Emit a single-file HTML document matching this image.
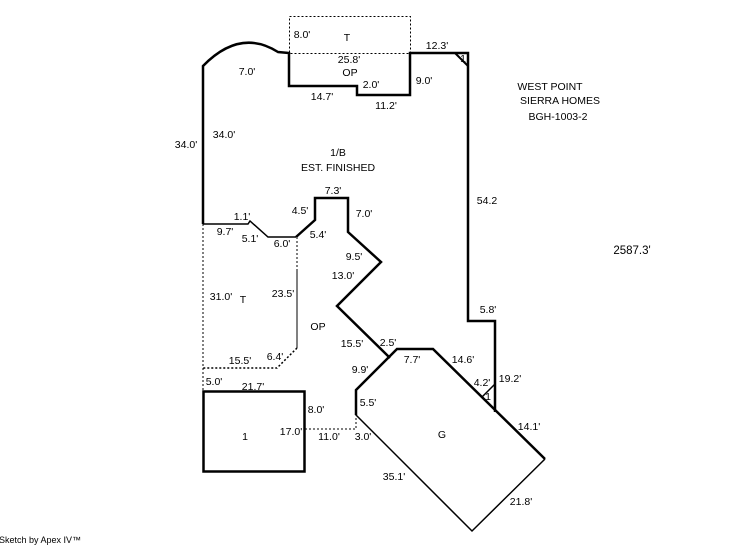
<!DOCTYPE html>
<html><head><style>
html,body{margin:0;padding:0;background:#fff;}
svg{display:block;}
text{font-family:"Liberation Sans",Arial,sans-serif;font-size:10.5px;fill:#000;text-anchor:middle;dominant-baseline:central;}
</style></head><body>
<svg width="746" height="547" viewBox="0 0 746 547" xmlns="http://www.w3.org/2000/svg">
<g fill="none" stroke="#000">
<rect x="289.5" y="16.5" width="121" height="37" stroke-dasharray="2,2" stroke-width="1"/>
<path d="M203,224 L203,66 Q240,28 278,52 L289,53 L289,86 L357,86 L357,95 L410,95 L410,53 L468,53 L468,321 L495,321 L495,412" stroke-width="2.5"/>
<path d="M455,53 L468,66" stroke-width="2"/>
<path d="M296,237 L315,220 L315,198 L348,198 L348,232 L381,262 L337,306 L390,358" stroke-width="2.5"/>
<path d="M203,224 L248,224 L250,221 L268,237 L296,237" stroke-width="1.5"/>
<path d="M203,224 L203,390" stroke-dasharray="2,2" stroke-width="1"/>
<path d="M297,237 L297,270" stroke-dasharray="2,2" stroke-width="1"/>
<path d="M297,270 L297,348" stroke-width="1"/>
<path d="M297,348 L277,368 L203,368" stroke-dasharray="2,2" stroke-width="1.5"/>
<rect x="203.5" y="391.5" width="101" height="80" stroke-width="2.5"/>
<path d="M305,429 L356,429 L356,415" stroke-dasharray="2,2" stroke-width="1"/>
<path d="M356,415 L356,390 L397,349 L433,349 L545,459" stroke-width="2.5"/>
<path d="M356,415 L472,531 L545,459" stroke-width="1.5"/>
<path d="M495,384 L482,397" stroke-width="1.5"/>
</g>
<text x="302" y="35">8.0'</text><text x="347" y="38">T</text><text x="437" y="46">12.3'</text>
<text x="349" y="60">25.8'</text><text x="247" y="72">7.0'</text><text x="350" y="73">OP</text>
<text x="371" y="85">2.0'</text><text x="424" y="81">9.0'</text><text x="322" y="97">14.7'</text>
<text x="386" y="106">11.2'</text>
<text x="550" y="87">WEST POINT</text><text x="560" y="101">SIERRA HOMES</text><text x="558" y="117">BGH-1003-2</text>
<text x="186" y="145">34.0'</text><text x="224" y="135">34.0'</text>
<text x="338" y="153">1/B</text><text x="338" y="168">EST. FINISHED</text>
<text x="333" y="191">7.3'</text><text x="300" y="211">4.5'</text><text x="364" y="214">7.0'</text>
<text x="487" y="201">54.2</text><text x="242" y="217">1.1'</text><text x="225" y="232">9.7'</text>
<text x="250" y="239">5.1'</text><text x="282" y="244">6.0'</text><text x="318" y="235">5.4'</text>
<text x="632" y="251" style="font-size:11.5px">2587.3'</text>
<text x="354" y="257">9.5'</text><text x="343" y="276">13.0'</text>
<text x="221" y="297">31.0'</text><text x="243" y="300">T</text><text x="283" y="294">23.5'</text>
<text x="318" y="327">OP</text><text x="488" y="310">5.8'</text>
<text x="352" y="344">15.5'</text><text x="388" y="343">2.5'</text><text x="412" y="360">7.7'</text>
<text x="463" y="360">14.6'</text><text x="240" y="361">15.5'</text><text x="275" y="357">6.4'</text>
<text x="360" y="370">9.9'</text><text x="482" y="383">4.2'</text><text x="510" y="379">19.2'</text>
<text x="488" y="397">1</text><text x="463" y="59">1</text>
<text x="214" y="382">5.0'</text><text x="253" y="387">21.7'</text><text x="368" y="403">5.5'</text>
<text x="316" y="410">8.0'</text><text x="529" y="427">14.1'</text><text x="245" y="437">1</text>
<text x="291" y="432">17.0'</text><text x="329" y="437">11.0'</text><text x="363" y="437">3.0'</text>
<text x="442" y="435">G</text><text x="394" y="477">35.1'</text><text x="521" y="502">21.8'</text>
<text x="40" y="540" style="font-size:9px">Sketch by Apex IV™</text>
</svg>
</body></html>
